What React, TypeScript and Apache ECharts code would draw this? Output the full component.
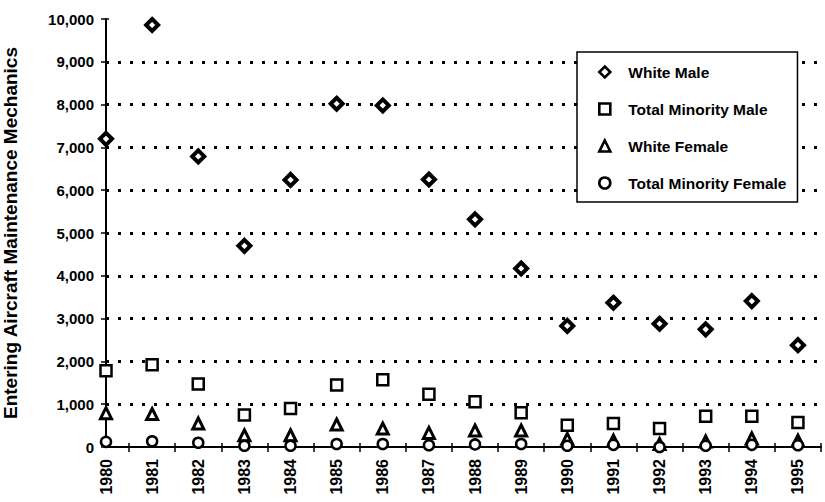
import React, { useEffect, useRef } from "react";
import * as echarts from "echarts";

const years = [1980, 1981, 1982, 1983, 1984, 1985, 1986, 1987, 1988, 1989, 1990, 1991, 1992, 1993, 1994, 1995];
const whiteMale = [7200, 9860, 6790, 4700, 6240, 8020, 7980, 6250, 5320, 4170, 2830, 3370, 2880, 2750, 3410, 2380];
const minorityMale = [1780, 1920, 1470, 745, 900, 1450, 1570, 1235, 1055, 800, 510, 550, 430, 720, 720, 570];
const whiteFemale = [790, 770, 550, 275, 275, 525, 430, 330, 385, 385, 190, 150, 70, 130, 200, 150];
const minorityFemale = [120, 135, 100, 30, 30, 70, 70, 40, 60, 70, 30, 50, 0, 30, 50, 40];
const seriesNames = ["White Male", "Total Minority Male", "White Female", "Total Minority Female"];
const yTitle = "Entering Aircraft Maintenance Mechanics";

const W = 825;
const H = 502;
const FONT = "'Liberation Sans', Arial, Helvetica, sans-serif";

export default function App() {
  const ref = useRef<HTMLDivElement>(null);
  useEffect(() => {
    if (!ref.current) return;
    const chart = echarts.init(ref.current, null, { renderer: "svg", width: W, height: H });
    const L = 106, R = 4, T = 19, B = 55;
    const span = years[years.length - 1] + 0.5 - years[0];
    const unit = (W - R - L) / span;
    const zip = (vals: number[]) => years.map((y, i) => [y, vals[i]]);
    const mk = (name: string, vals: number[], symbol: string, size: number, bw: number) => ({
      name,
      type: "scatter",
      xAxisIndex: 0,
      yAxisIndex: 0,
      data: zip(vals),
      symbol,
      symbolSize: size,
      itemStyle: { color: "#fff", borderColor: "#000", borderWidth: bw, opacity: 1 },
      emphasis: { disabled: true },
    });
    const hiddenLine = { show: true, onZero: false, lineStyle: { color: "rgba(0,0,0,0)", width: 0 } };
    chart.setOption({
      animation: false,
      backgroundColor: "#fff",
      textStyle: { fontFamily: FONT },
      grid: [
        { left: L, right: R, top: T, bottom: B, outerBoundsMode: "none", containLabel: false },
        { left: L + unit / 2, right: R, top: T, bottom: B, outerBoundsMode: "none", containLabel: false },
      ],
      legend: {
        orient: "vertical",
        left: 577,
        top: 52,
        padding: [11, 11, 10, 21],
        itemGap: 19,
        itemWidth: 11,
        itemHeight: 11,
        backgroundColor: "#fff",
        borderColor: "#000",
        borderWidth: 1.5,
        borderRadius: 0,
        itemStyle: { borderWidth: 2.6 },
        textStyle: { fontSize: 15.5, fontWeight: "bold", lineHeight: 18, color: "#000", fontFamily: FONT, padding: [0, 0, 0, 13] },
        data: seriesNames,
      },
      xAxis: [
        {
          type: "value",
          gridIndex: 0,
          min: years[0],
          max: years[years.length - 1] + 0.5,
          interval: 1,
          axisLine: { show: true, lineStyle: { color: "#000", width: 2 } },
          axisTick: { show: false },
          splitLine: { show: false },
          axisLabel: {
            rotate: 90,
            margin: 12,
            fontSize: 16,
            fontWeight: "bold",
            color: "#000",
            fontFamily: FONT,
            formatter: (v: number) => (Number.isInteger(v) && years.includes(v) ? String(v) : ""),
          },
        },
        {
          type: "value",
          gridIndex: 1,
          position: "bottom",
          min: 0,
          max: years.length - 1,
          interval: 1,
          offset: -4,
          axisLine: hiddenLine,
          axisTick: { show: true, length: 9, lineStyle: { color: "#000", width: 1.5 } },
          axisLabel: { show: false },
          splitLine: { show: false },
        },
      ],
      yAxis: [
        {
          type: "value",
          gridIndex: 0,
          position: "left",
          min: 0,
          max: 10000,
          interval: 1000,
          name: yTitle,
          nameLocation: "middle",
          nameGap: 86,
          nameTextStyle: { fontSize: 19, fontWeight: "bold", color: "#000", fontFamily: FONT },
          axisLine: { show: true, onZero: false, lineStyle: { color: "#000", width: 2 } },
          axisTick: { show: true, length: 5, lineStyle: { color: "#000", width: 1.5 } },
          axisLabel: {
            margin: 12,
            fontSize: 15,
            fontWeight: "bold",
            color: "#000",
            fontFamily: FONT,
            formatter: (v: number) => v.toLocaleString("en-US"),
          },
          splitLine: {
            show: true,
            showMinLine: false,
            showMaxLine: false,
            lineStyle: { color: "#000", width: 3, type: [3, 9] },
          },
        },
        {
          type: "value",
          gridIndex: 0,
          position: "left",
          min: 0,
          max: 10000,
          interval: 1000,
          offset: -3,
          axisLine: hiddenLine,
          axisTick: { show: true, length: 3, lineStyle: { color: "#000", width: 1.5 } },
          axisLabel: { show: false },
          splitLine: { show: false },
        },
        { type: "value", gridIndex: 1, min: 0, max: 10000, show: false },
      ],
      series: [
        mk(seriesNames[0], whiteMale, "diamond", 12, 4),
        mk(seriesNames[1], minorityMale, "rect", 11, 2.5),
        mk(seriesNames[2], whiteFemale, "triangle", 11, 3),
        mk(seriesNames[3], minorityFemale, "circle", 10, 2.5),
      ],
    });
    return () => chart.dispose();
  }, []);
  return <div ref={ref} style={{ position: "absolute", left: 0, top: 0, width: W, height: H }} />;
}
